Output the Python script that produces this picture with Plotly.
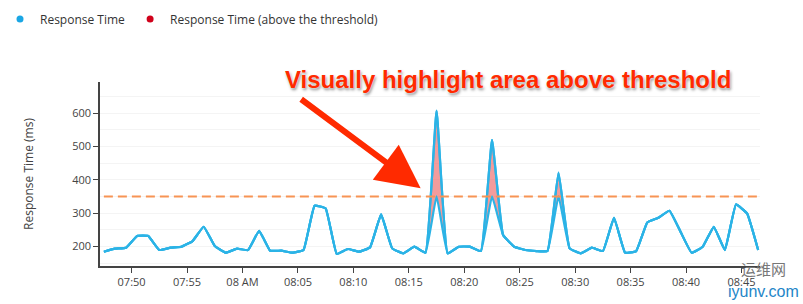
import datetime as dt
import plotly.graph_objects as go

# ---- data ----
start_time = "2016-01-01 07:47:30"
response_ms = [184, 193, 196, 231, 231, 189, 196, 199, 216, 259,
               201, 181, 193, 189, 247, 187, 187, 181, 189, 322,
               314, 177, 192, 184, 197, 296, 194, 179, 199, 181,
               608, 179, 199, 199, 186, 520, 234, 199, 189, 186,
               186, 422, 194, 179, 196, 186, 286, 181, 186, 272,
               286, 307, 244, 181, 199, 259, 189, 326, 299, 189]
threshold = 350
tick_times = ["2016-01-01 07:50", "2016-01-01 07:55", "2016-01-01 08:00",
              "2016-01-01 08:05", "2016-01-01 08:10", "2016-01-01 08:15",
              "2016-01-01 08:20", "2016-01-01 08:25", "2016-01-01 08:30",
              "2016-01-01 08:35", "2016-01-01 08:40", "2016-01-01 08:45"]
tick_labels = ["07:50", "07:55", "08 AM", "08:05", "08:10", "08:15",
               "08:20", "08:25", "08:30", "08:35", "08:40", "08:45"]
y_ticks = [200, 300, 400, 500, 600]

t0 = dt.datetime.fromisoformat(start_time)
times = [t0 + dt.timedelta(minutes=i) for i in range(len(response_ms))]
low = [min(v, threshold) for v in response_ms]

BLUE = "#2bb3e6"
LINE = dict(color=BLUE, width=2.2, shape="spline", smoothing=0.3)
fig = go.Figure()

# band showing the part above threshold
fig.add_trace(go.Scatter(x=times, y=low, mode="lines", showlegend=False,
                         line=LINE, hoverinfo="skip"))
fig.add_trace(go.Scatter(x=times, y=response_ms, mode="lines", showlegend=False,
                         fill="tonexty", fillcolor="rgba(234,90,90,0.6)",
                         line=LINE, hoverinfo="skip"))
# main line
fig.add_trace(go.Scatter(x=times, y=response_ms, mode="lines", showlegend=False,
                         line=LINE))
# legend entries
fig.add_trace(go.Scatter(x=[None], y=[None], mode="markers", name="Response Time",
                         marker=dict(color="#1aa6e4", size=7)))
fig.add_trace(go.Scatter(x=[None], y=[None], mode="markers",
                         name="Response Time (above the threshold)",
                         marker=dict(color="#d0021b", size=7)))

# threshold line
fig.add_shape(type="line", xref="x", yref="y", x0=times[0], x1=times[-1],
              y0=threshold, y1=threshold,
              line=dict(color="#f79454", width=2, dash="9px,5px"))

fig.add_annotation(
    text="<b>Visually highlight area above threshold</b>",
    xref="paper", yref="paper", x=0.618, y=1.015, xanchor="center", yanchor="middle",
    showarrow=False,
    font=dict(family="Liberation Sans, Arial", size=24, color="#ff2a00",
              shadow="0px 0px 2px #ffffff, 1px 2px 3px rgba(0,0,0,0.45)"))
fig.add_annotation(
    x="2016-01-01 08:16:04", y=375, xref="x", yref="y",
    ax=-121, ay=-90, axref="pixel", ayref="pixel",
    showarrow=True, arrowhead=2, arrowsize=1.45, arrowwidth=6, arrowcolor="#ff2a00",
    text="")

# watermark
fig.add_annotation(text="运维网", xref="paper", yref="paper", x=1.006, y=-0.012,
                   xanchor="center", yanchor="middle", showarrow=False,
                   font=dict(family="Noto Sans CJK SC", size=15, color="#777777"))
fig.add_annotation(text="iyunv.com", xref="paper", yref="paper", x=1.006, y=-0.141,
                   xanchor="center", yanchor="middle", showarrow=False,
                   font=dict(family="Liberation Sans, Arial", size=16, color="#1e86c8"))

fig.update_layout(
    width=803, height=304,
    margin=dict(l=100, r=43, t=82, b=38),
    paper_bgcolor="white", plot_bgcolor="white",
    font=dict(family="Open Sans, Liberation Sans, Arial", size=11, color="#444"),
    legend=dict(orientation="h", xref="container", yref="container",
                x=0, y=0.985, xanchor="left", yanchor="top",
                traceorder="normal",
                font=dict(size=12, color="#333"), itemwidth=30, tracegroupgap=0),
    showlegend=True,
)
fig.update_xaxes(
    type="date", range=["2016-01-01 07:47:09", "2016-01-01 08:46:40"],
    tickvals=tick_times, ticktext=tick_labels,
    showgrid=False, showline=True, linecolor="#444", linewidth=1.5,
    ticks="outside", ticklen=5, tickcolor="#444", tickfont=dict(size=11, color="#444"),
    zeroline=False,
)
fig.update_yaxes(
    range=[141, 694], tickvals=y_ticks,
    showgrid=True, gridcolor="#f4f4f4", gridwidth=1,
    minor=dict(dtick=50, showgrid=True, gridcolor="#f4f4f4", gridwidth=1),
    showline=True, linecolor="#444", linewidth=1.5,
    ticks="outside", ticklen=5, tickcolor="#444", tickfont=dict(size=11, color="#444"),
    title=dict(text="Response Time (ms)", font=dict(size=12, color="#444"), standoff=36),
    zeroline=False,
)

fig.write_html("out.html")
